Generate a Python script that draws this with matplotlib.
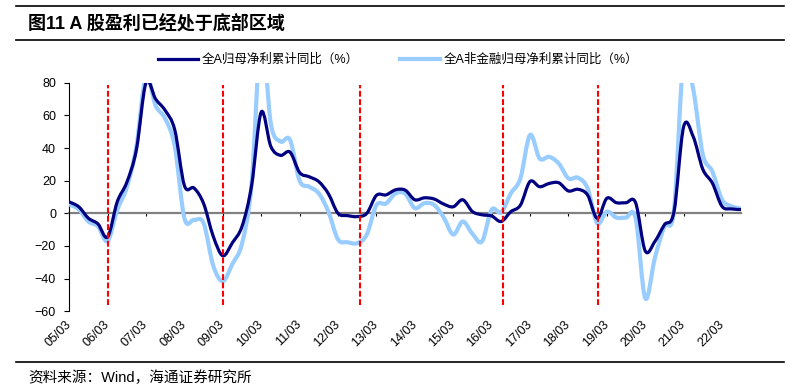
import matplotlib
matplotlib.use('Agg')
import matplotlib.pyplot as plt
from matplotlib.path import Path
from matplotlib.patches import PathPatch
from matplotlib.lines import Line2D
import numpy as np

plt.rcParams['font.family'] = ['Liberation Sans', 'Noto Sans CJK SC', 'DejaVu Sans']

# -- Data: quarterly cumulative YoY growth (%), 2005Q1 .. 2022Q3 --
all_a = [7, 4, -3, -6.5, -14.5, 7, 19, 39, 80, 70,
         63, 51, 17, 15.5, 6, -14, -26, -18, -8, 17,
         62, 41, 35.5, 37.5, 25, 22.4, 19.4, 12, 0, -1.4,
         -2, 0, 11, 11.3, 14.4, 14.2, 8.3, 9.5, 8.8, 5.7,
         4, 8.3, 1.1, -0.9, -1.6, -5, 1, 5, 19.5, 16.3,
         18.3, 18.7, 13.7, 14.7, 11.2, -3, 9.2, 6.5, 6.5, 6.5,
         -23, -17.3, -7, 1, 53, 47, 27, 18.5, 4.3, 2.7,
         2.3]
non_fin = [5.5, 2.5, -5, -8, -17, 2, 16, 41, 84, 66,
           58, 41, -3, -4, -6, -32, -41.5, -31, -18.5, 18,
           110, 55, 44, 45, 20, 16.3, 12.2, 1, -16, -17.7,
           -18.3, -13, 5, 6, 12.2, 12, 3.2, 6.2, 5.2, -2.4,
           -13, -5, -12.5, -17.2, 2.2, 0.6, 12.2, 21.4, 48, 33.6,
           34.6, 30.5, 21.4, 21.8, 15.3, -6, 1, -2.6, -2.6, -2.8,
           -52, -27.5, -8, 2, 95, 76, 36, 25.6, 8.4, 4.3,
           2.9]
year_labels = ['05/03', '06/03', '07/03', '08/03', '09/03', '10/03',
               '11/03', '12/03', '13/03', '14/03', '15/03', '16/03',
               '17/03', '18/03', '19/03', '20/03', '21/03', '22/03']
# earnings bottoms, in years after 2005/03
bottom_marks = [1.0, 4.0, 7.57, 11.3, 13.76]

label_a = '全A归母净利累计同比（%）'
label_nf = '全A非金融归母净利累计同比（%）'

NAVY = '#000080'
LIGHT = '#99CCFF'


def smooth_path(x, y):
    # Excel-style smoothed line: cubic Bezier through every point
    pts = np.column_stack([x, y]).astype(float)
    ext = np.vstack([pts[0], pts, pts[-1]])
    verts = [pts[0]]
    codes = [Path.MOVETO]
    for i in range(len(pts) - 1):
        p0, p1, p2, p3 = ext[i], ext[i + 1], ext[i + 2], ext[i + 3]
        verts += [p1 + (p2 - p0) / 6, p2 - (p3 - p1) / 6, p2]
        codes += [Path.CURVE4] * 3
    return Path(verts, codes)


t = np.arange(len(all_a)) * 0.25

fig = plt.figure(figsize=(7.9, 3.9), dpi=100)
ax = fig.add_axes([69.2 / 790, 1 - 311.3 / 390, 672 / 790, 228.6 / 390])

ax.add_patch(PathPatch(smooth_path(t, non_fin), facecolor='none',
                       edgecolor=LIGHT, lw=3.0, capstyle='round',
                       joinstyle='round', zorder=3))
ax.add_patch(PathPatch(smooth_path(t, all_a), facecolor='none',
                       edgecolor=NAVY, lw=2.3, capstyle='round',
                       joinstyle='round', zorder=4))

ax.vlines(bottom_marks, -56, 78.5, colors='#FF0000', lw=1.5,
          linestyles=(0, (2.8, 1.2)), zorder=5)

ax.set_xlim(0, 17.5)
ax.set_ylim(-60, 80)
ax.set_yticks(np.arange(-60, 81, 20))
ax.set_xticks(np.arange(len(year_labels)))

for side in ['top', 'right']:
    ax.spines[side].set_visible(False)
ax.spines['left'].set_color('black')
ax.spines['left'].set_linewidth(0.8)
ax.spines['bottom'].set_position(('data', 0))
ax.spines['bottom'].set_color('#808080')
ax.spines['bottom'].set_linewidth(1.6)
ax.spines['bottom'].set_zorder(2)
ax.tick_params(axis='y', direction='out', length=3.5, width=0.8,
               labelsize=9, pad=6)
ax.tick_params(axis='x', direction='out', length=2.5, width=0.8,
               labelbottom=False)

sec = ax.secondary_xaxis('bottom')
sec.set_xticks(np.arange(len(year_labels)))
sec.set_xticklabels(year_labels, rotation=45, ha='right', va='center',
                    rotation_mode='anchor', fontsize=9)
sec.spines['bottom'].set_visible(False)
sec.tick_params(length=0, pad=8)

handles = [Line2D([], [], color=NAVY, lw=2.3),
           Line2D([], [], color=LIGHT, lw=3.0)]
fig.legend(handles, [label_a, label_nf], loc='center',
           bbox_to_anchor=(0.504, 1 - 60 / 390), ncol=2, frameon=False,
           fontsize=9, handlelength=3.2, handletextpad=0.3,
           columnspacing=3.3)

fig.text(28 / 790, 1 - 23 / 390, '图11 A 股盈利已经处于底部区域',
         fontsize=13, fontweight='bold', va='center')
fig.text(28 / 790, 1 - 378 / 390, '资料来源：Wind，海通证券研究所',
         fontsize=10.5, va='center')
for yy in [6, 40, 362]:
    fig.add_artist(Line2D([16 / 790, 784 / 790], [1 - yy / 390] * 2,
                          transform=fig.transFigure, color='black', lw=1.2))

fig.savefig('out.png', dpi=100, facecolor='white')
plt.close()
